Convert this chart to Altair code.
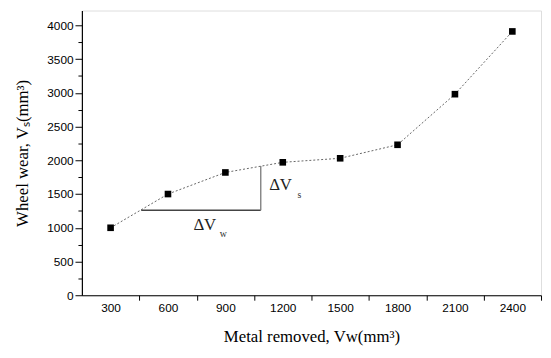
import altair as alt
import pandas as pd

# Data
metal_removed = [300, 600, 900, 1200, 1500, 1800, 2100, 2400]
wheel_wear = [1000, 1500, 1820, 1970, 2030, 2230, 2980, 3910]

x_label_values = [300, 600, 900, 1200, 1500, 1800, 2100, 2400]
x_tick_values = [450, 750, 1050, 1350, 1650, 1950, 2250, 2550]
y_major_values = [0, 500, 1000, 1500, 2000, 2500, 3000, 3500, 4000]
y_minor_values = [250, 750, 1250, 1750, 2250, 2750, 3250, 3750]

# Slope construction (triangle)
tri_h_x = [460]
tri_h_x2 = [1085]
tri_h_y = [1260]
tri_v_x = [1085]
tri_v_y = [1260]
tri_v_y2 = [1915]

note_main_text = ["\u2206V", "\u2206V"]
note_main_x = [793, 1189]
note_main_y = [1036, 1635]
note_sub_text = ["w", "s"]
note_sub_x = [889, 1287]
note_sub_y = [905, 1489]

df = pd.DataFrame({"x": metal_removed, "y": wheel_wear})
tri_h = pd.DataFrame({"x": tri_h_x, "x2": tri_h_x2, "y": tri_h_y})
tri_v = pd.DataFrame({"x": tri_v_x, "y": tri_v_y, "y2": tri_v_y2})
notes = pd.DataFrame({"t": note_main_text, "x": note_main_x, "y": note_main_y})
subs = pd.DataFrame({"t": note_sub_text, "x": note_sub_x, "y": note_sub_y})

xscale = alt.Scale(domain=[150, 2550], nice=False, zero=False)
yscale = alt.Scale(domain=[0, 4220], nice=False)

tick_font = "Liberation Sans"
title_font = "Liberation Serif"

line = alt.Chart(df).mark_line(
    color="#666666", strokeWidth=1, strokeDash=[2, 2]
).encode(
    x=alt.X("x:Q", scale=xscale, axis=alt.Axis(
        orient="bottom", values=x_tick_values, labels=False, title=None,
        grid=False, tickSize=5, tickColor="black", domainColor="black",
        domainWidth=1.2, tickWidth=1)),
    y=alt.Y("y:Q", scale=yscale, axis=alt.Axis(
        orient="left", values=y_major_values, grid=False, tickSize=7,
        format="d",
        tickColor="black", domainColor="black", domainWidth=1.2,
        labelFont=tick_font, labelFontSize=12, labelColor="black",
        labelPadding=2,
        title="Wheel wear, V\u209b(mm\u00b3)", titleFont=title_font,
        titleFontSize=17, titleFontWeight="normal", titleColor="black",
        titlePadding=15)),
)

points = alt.Chart(df).mark_point(
    shape="square", filled=True, color="black", size=45, opacity=1
).encode(
    x=alt.X("x:Q", scale=xscale, axis=alt.Axis(
        orient="bottom", values=x_label_values, ticks=False, domain=False,
        grid=False, labelFont=tick_font, labelFontSize=12, format="d",
        labelColor="black", labelPadding=8,
        title="Metal removed, Vw(mm\u00b3)", titleFont=title_font,
        titleFontSize=17, titleFontWeight="normal", titleColor="black",
        titlePadding=15)),
    y=alt.Y("y:Q", scale=yscale, axis=alt.Axis(
        orient="left", values=y_minor_values, labels=False, domain=False,
        grid=False, ticks=True, tickSize=4, tickWidth=1, tickColor="black",
        title=None)),
)

hrule = alt.Chart(tri_h).mark_rule(color="#444444", strokeWidth=1.5).encode(
    x=alt.X("x:Q", scale=xscale, axis=None),
    x2="x2:Q",
    y=alt.Y("y:Q", scale=yscale, axis=None),
)

vrule = alt.Chart(tri_v).mark_rule(color="#777777", strokeWidth=1.3).encode(
    x=alt.X("x:Q", scale=xscale, axis=None),
    y=alt.Y("y:Q", scale=yscale, axis=None),
    y2="y2:Q",
)

note_text = alt.Chart(notes).mark_text(
    font=title_font, fontSize=17, color="#222222", align="center",
    baseline="middle"
).encode(
    x=alt.X("x:Q", scale=xscale, axis=None),
    y=alt.Y("y:Q", scale=yscale, axis=None),
    text="t:N",
)

sub_text = alt.Chart(subs).mark_text(
    font=title_font, fontSize=10, color="#333333", align="center",
    baseline="middle"
).encode(
    x=alt.X("x:Q", scale=xscale, axis=None),
    y=alt.Y("y:Q", scale=yscale, axis=None),
    text="t:N",
)

chart = alt.layer(line, points, hrule, vrule, note_text, sub_text).resolve_axis(
    x="independent", y="independent"
).properties(
    width=466, height=289,
    autosize=alt.AutoSizeParams(type="none"),
    padding={"left": 75, "top": 0, "right": 2, "bottom": 52},
).configure_view(stroke=None).configure(background="white")

chart.save("out.html", embed_options={"renderer": "svg", "actions": False})
